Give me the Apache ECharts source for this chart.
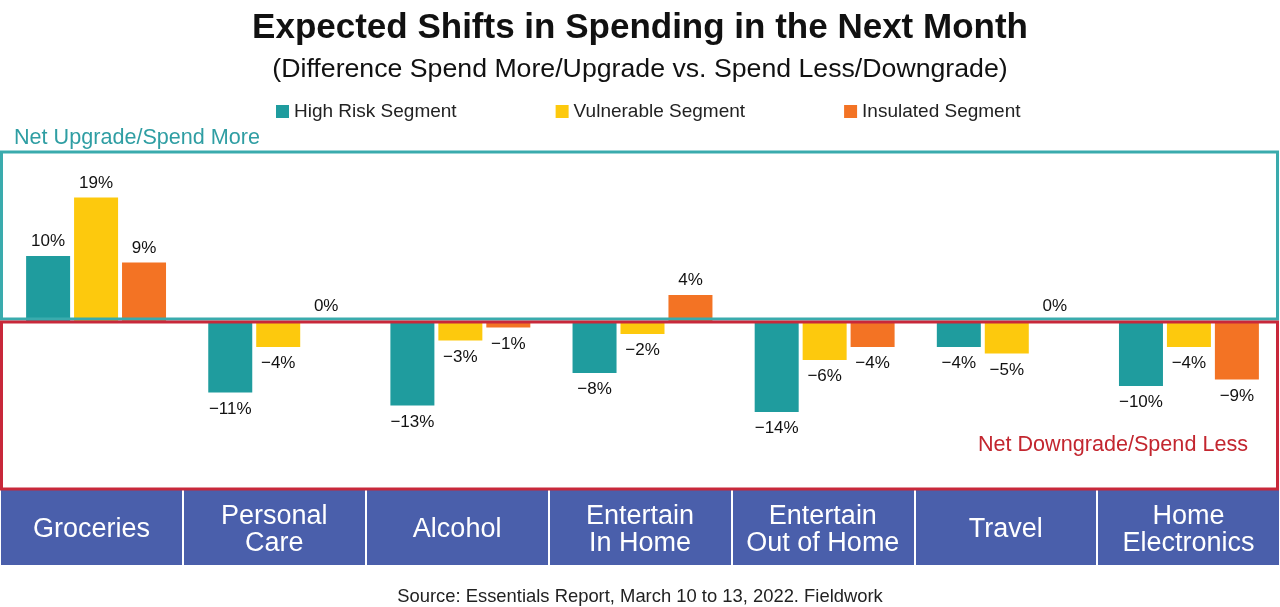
<!DOCTYPE html>
<html>
<head>
<meta charset="utf-8">
<script src="https://cdn.jsdelivr.net/npm/echarts@6/dist/echarts.min.js"></script>
<style>
  html, body { margin: 0; padding: 0; background: #fff; }
  #chart { width: 1280px; height: 607px; }
</style>
</head>
<body>
<div id="chart"></div>
<script>
// categories along the bottom band
var categories = ['Groceries', 'Personal\nCare', 'Alcohol', 'Entertain\nIn Home', 'Entertain\nOut of Home', 'Travel', 'Home\nElectronics'];
// net difference, percent
var highRisk   = [10, -11, -13, -8, -14, -4, -10];
var vulnerable = [19, -4, -3, -2, -6, -5, -4];
var insulated  = [9, 0, -1, 4, -4, 0, -9];
var seriesNames = ['High Risk Segment', 'Vulnerable Segment', 'Insulated Segment'];

var FONT = '"Liberation Sans", Arial, sans-serif';
var colors = ['#1f9c9e', '#fdc90d', '#f37324'];

var myChart = echarts.init(document.getElementById('chart'));

function fmt(p) {
    var v = p.value;
    return (v < 0 ? '\u2212' + Math.abs(v) : v) + '%';
}

function barSeries(name, data, i) {
    return {
        name: name,
        type: 'bar',
        xAxisIndex: 0,
        yAxisIndex: 0,
        barWidth: 44,
        barGap: '9%',
        itemStyle: { color: colors[i] },
        label: {
            show: true,
            distance: 6,
            formatter: fmt,
            color: '#111',
            fontSize: 17,
            fontFamily: FONT
        },
        // labels above for zero/positive, below for negative
        data: data.map(function (v) {
            return { value: v, label: v < 0 ? { position: 'bottom', distance: 8 } : { position: 'top' } };
        })
    };
}

var option = {
    backgroundColor: '#fff',
    animation: false,
    color: colors,
    title: [
        {
            text: 'Expected Shifts in Spending in the Next Month',
            left: 'center',
            top: 6,
            textStyle: { fontSize: 35, fontWeight: 'bold', color: '#111', fontFamily: FONT }
        },
        {
            text: '(Difference Spend More/Upgrade vs. Spend Less/Downgrade)',
            left: 'center',
            top: 51,
            textStyle: { fontSize: 26.7, fontWeight: 'normal', color: '#111', fontFamily: FONT }
        }
    ],
    legend: {
        data: seriesNames,
        left: 276,
        top: 102,
        padding: 0,
        icon: 'rect',
        itemWidth: 13,
        itemHeight: 13,
        itemGap: 99,
        textStyle: { fontSize: 19, color: '#222', fontFamily: FONT }
    },
    grid: [
        { left: 5, right: 0, top: 152, height: 338 },
        { left: 0, right: 0, top: 490, height: 75, show: true, backgroundColor: '#4a5fab', borderWidth: 0 }
    ],
    xAxis: [
        {
            type: 'category',
            gridIndex: 0,
            data: categories,
            show: false
        },
        {
            type: 'category',
            gridIndex: 1,
            data: categories,
            position: 'bottom',
            axisLine: { show: false },
            axisTick: { show: false },
            splitLine: { show: true, interval: 0, lineStyle: { color: '#fff', width: 2 } },
            axisLabel: {
                interval: 0,
                margin: -35,
                verticalAlign: 'middle',
                color: '#fff',
                fontSize: 27,
                lineHeight: 27,
                fontFamily: FONT
            }
        }
    ],
    yAxis: [
        { type: 'value', gridIndex: 0, min: -26, max: 26, show: false },
        { type: 'value', gridIndex: 1, show: false }
    ],
    series: [
        barSeries(seriesNames[0], highRisk, 0),
        barSeries(seriesNames[1], vulnerable, 1),
        barSeries(seriesNames[2], insulated, 2)
    ],
    graphic: [
        {
            type: 'rect', z: 100, silent: true,
            shape: { x: 1.5, y: 152, width: 1276, height: 167 },
            style: { fill: 'none', stroke: '#3aabad', lineWidth: 3 }
        },
        {
            type: 'rect', z: 100, silent: true,
            shape: { x: 1.5, y: 322, width: 1276, height: 167 },
            style: { fill: 'none', stroke: '#c8283a', lineWidth: 3 }
        },
        {
            type: 'text', left: 14, top: 127,
            style: { text: 'Net Upgrade/Spend More', fill: '#2f9ea3', fontSize: 21.6, fontFamily: FONT }
        },
        {
            type: 'text', right: 32, top: 434,
            style: { text: 'Net Downgrade/Spend Less', fill: '#c3262f', fontSize: 21.6, fontFamily: FONT }
        },
        {
            type: 'text', left: 'center', top: 588,
            style: { text: 'Source: Essentials Report, March 10 to 13, 2022. Fieldwork', fill: '#222', fontSize: 18.4, fontFamily: FONT }
        }
    ]
};

myChart.setOption(option);
</script>
</body>
</html>
